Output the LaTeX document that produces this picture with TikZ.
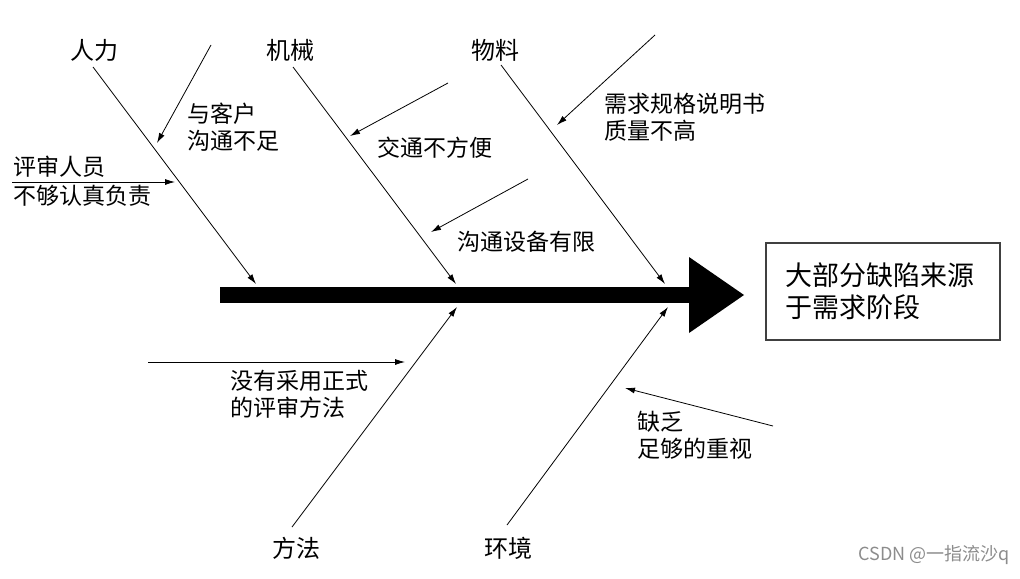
\documentclass[tikz,border=0pt]{standalone}
\usepackage{fontspec}
\newfontfamily\cjk{Noto Sans CJK SC}
\usepackage{xcolor}
\usetikzlibrary{arrows.meta}

\begin{document}
\begin{tikzpicture}[x=0.5pt, y=-0.5pt,
    cat/.style={font=\cjk\fontsize{12}{14}\selectfont},
    cause/.style={font=\cjk\fontsize{11.5}{13.5}\selectfont, align=left, anchor=west, inner sep=0pt},
    bone/.style={-{Latex[length=5pt,width=3pt]}, thin}]
    \useasboundingbox (0,0) rectangle (1020,578);

    % spine
    \coordinate (tail) at (220,295);
    \coordinate (neck) at (689,295);
    \coordinate (head) at (744,295);
    \draw[line width=8pt] (tail) -- (neck);
    \fill (689,257) -- (head) -- (689,333) -- cycle;

    \node[draw=black!75, line width=1pt, font=\cjk\fontsize{13.5}{16}\selectfont, align=left,
          text width=98pt, inner xsep=9.5pt, minimum height=48.5pt] (res) at (883,291.5)
          {大部分缺陷来源\\于需求阶段};

    % categories
    \node[cat] (rl) at (94,50) {人力};
    \node[cat] (jx) at (290,50) {机械};
    \node[cat] (wl) at (495,50) {物料};
    \node[cat] (ff) at (296,548) {方法};
    \node[cat] (hj) at (508,548) {环境};

    \coordinate (rl0) at (93,67);
    \coordinate (rl1) at (256,284);
    \coordinate (jx0) at (293,67);
    \coordinate (jx1) at (456,284);
    \coordinate (wl0) at (501,65);
    \coordinate (wl1) at (665,284);
    \coordinate (ff0) at (292,527);
    \coordinate (ff1) at (457,307);
    \coordinate (hj0) at (507,525);
    \coordinate (hj1) at (668,307);

    \draw[bone] (rl0) -- (rl1);
    \draw[bone] (jx0) -- (jx1);
    \draw[bone] (wl0) -- (wl1);
    \draw[bone] (ff0) -- (ff1);
    \draw[bone] (hj0) -- (hj1);

    % causes
    \node[cause] (kh) at (187,127) {与客户\\沟通不足};
    \node[cause] (ps) at (13,181) {评审人员\\[1pt]不够认真负责};
    \node[cause] (jt) at (377,148) {交通不方便};
    \node[cause] (sb) at (457,242) {沟通设备有限};
    \node[cause] (xq) at (604,117) {需求规格说明书\\质量不高};
    \node[cause] (zs) at (230,394) {没有采用正式\\的评审方法};
    \node[cause] (qf) at (637,435) {缺乏\\足够的重视};

    \coordinate (kh0) at (211,45);
    \coordinate (kh1) at (157,143);
    \coordinate (ps0) at (12,182);
    \coordinate (ps1) at (175,182);
    \coordinate (jt0) at (448,83);
    \coordinate (jt1) at (350,136);
    \coordinate (sb0) at (528,179);
    \coordinate (sb1) at (431,232);
    \coordinate (xq0) at (655,35);
    \coordinate (xq1) at (557,125);
    \coordinate (zs0) at (148,362);
    \coordinate (zs1) at (405,362);
    \coordinate (qf0) at (773,426);
    \coordinate (qf1) at (625,388);

    \draw[bone] (kh0) -- (kh1);
    \draw[bone] (ps0) -- (ps1);
    \draw[bone] (jt0) -- (jt1);
    \draw[bone] (sb0) -- (sb1);
    \draw[bone] (xq0) -- (xq1);
    \draw[bone] (zs0) -- (zs1);
    \draw[bone] (qf0) -- (qf1);

    \node[anchor=east, text=black!45, font=\cjk\fontsize{9}{10}\selectfont] (wm) at (1017,555) {CSDN @一指流沙q};
\end{tikzpicture}
\end{document}
